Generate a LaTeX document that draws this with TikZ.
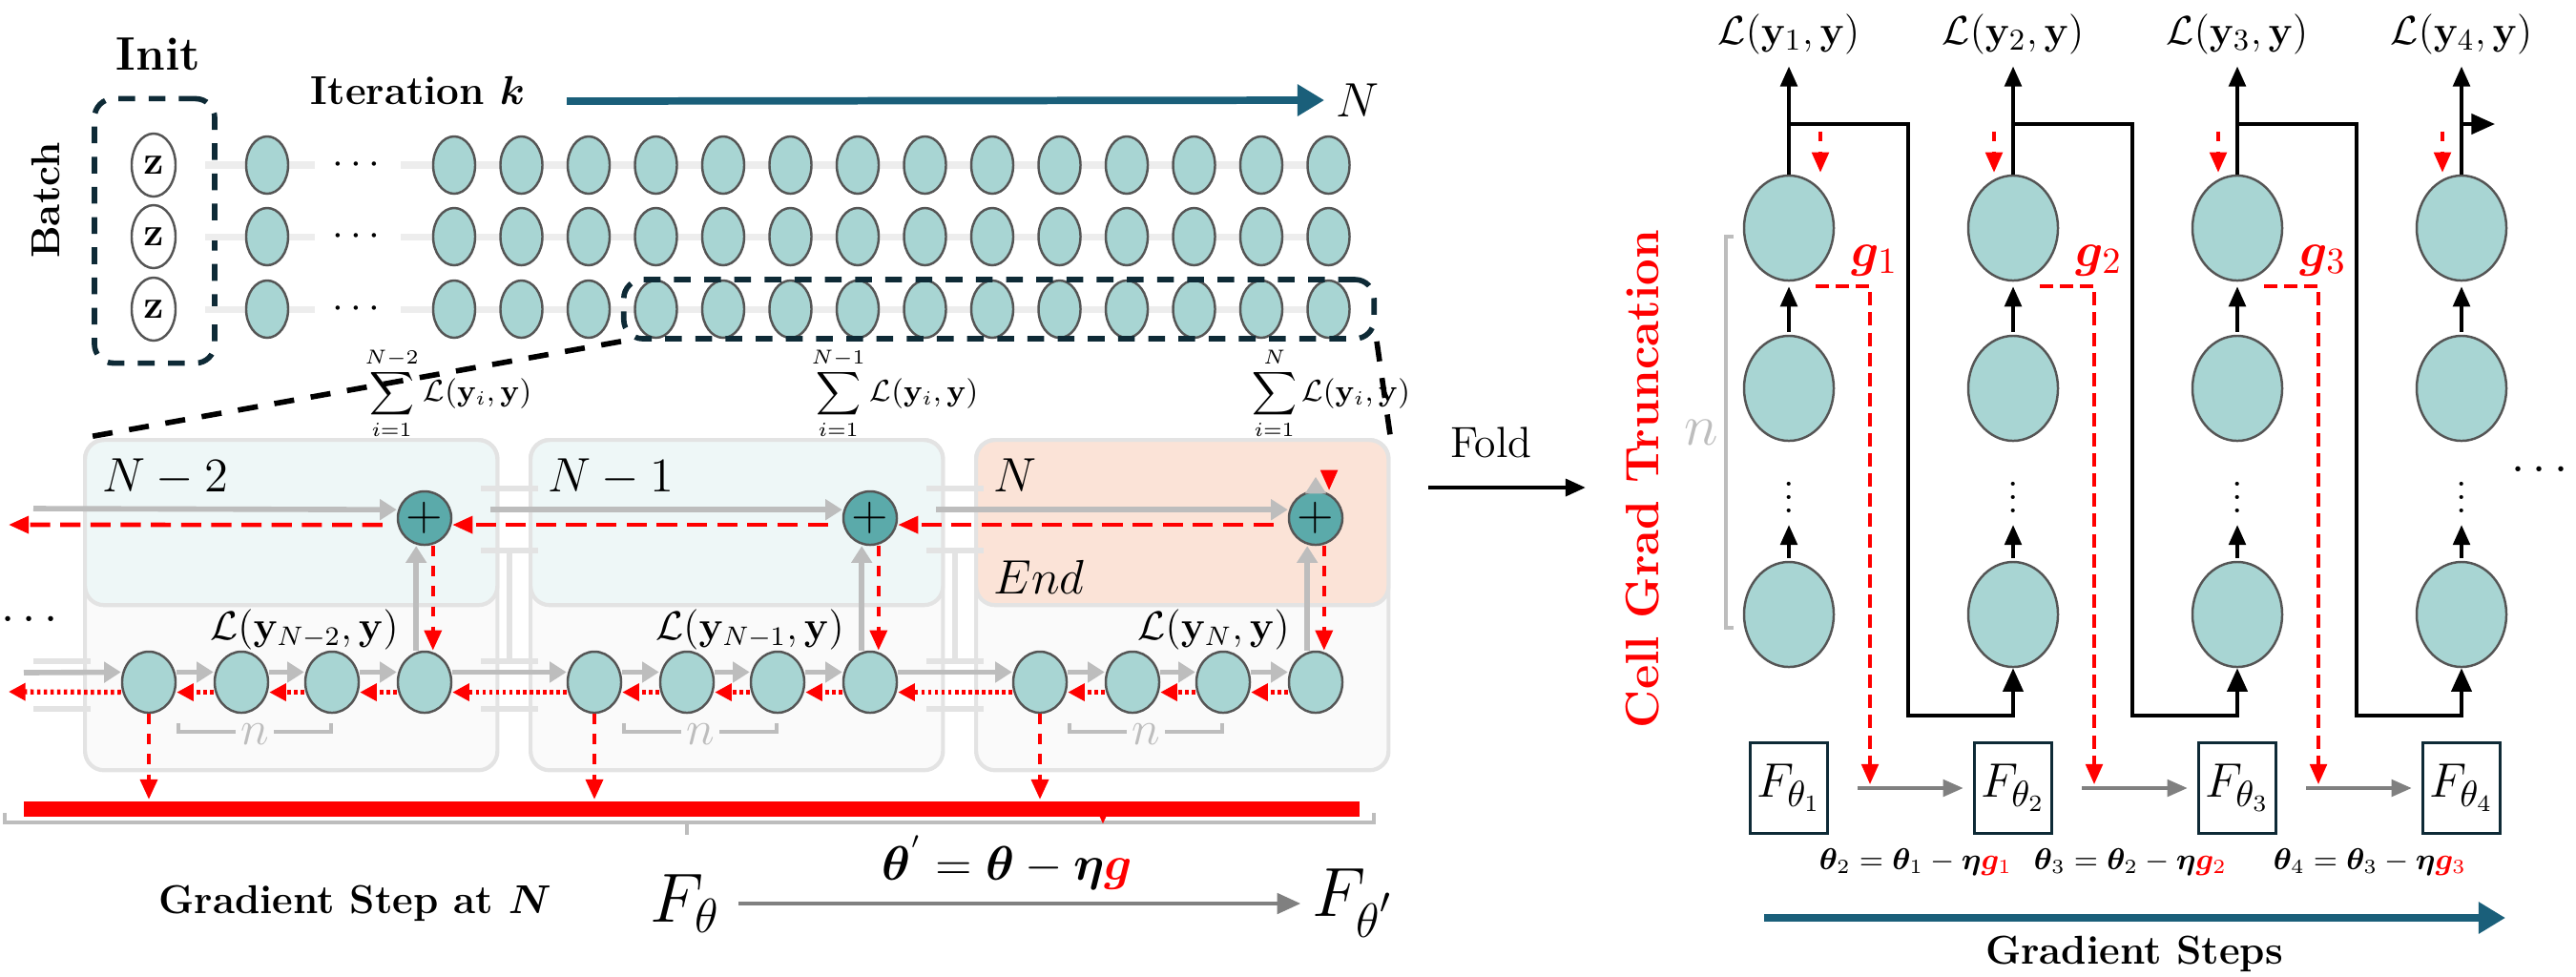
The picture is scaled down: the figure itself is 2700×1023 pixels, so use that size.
\documentclass[tikz,border=0pt]{standalone}
\usepackage{amsmath,amssymb,bm}
\usetikzlibrary{arrows.meta,positioning,shapes.geometric,calc}
\definecolor{cellfill}{HTML}{A8D5D3}
\definecolor{plusfill}{HTML}{5BAAAA}
\definecolor{cellline}{HTML}{555555}
\definecolor{stepblue}{HTML}{1A5F7A}
\definecolor{boxline}{HTML}{0E2A36}
\definecolor{panelcyan}{HTML}{EEF7F7}
\definecolor{panelpeach}{HTML}{FBE3D7}
\definecolor{panelgray}{HTML}{FAFAFA}
\definecolor{panelline}{HTML}{E3E3E3}
\definecolor{arrgray}{HTML}{BDBDBD}
\tikzset{%
	small cell/.style={ellipse, draw=cellline, fill=cellfill, line width=0.7pt,
		minimum width=4.4mm, minimum height=6mm, inner sep=0pt},
	chain cell/.style={small cell, minimum width=5.6mm, minimum height=6.4mm},
	big cell/.style={small cell, minimum width=9.4mm, minimum height=11mm},
	z cell/.style={small cell, fill=white, minimum width=4.6mm, minimum height=6.6mm},
	plus/.style={circle, draw=cellline, fill=plusfill, line width=0.7pt,
		minimum size=5.6mm, inner sep=0pt},
	dashed box/.style={draw=boxline, line width=1.6pt, dash pattern=on 5pt off 4pt,
		rounded corners=2mm, inner sep=0pt},
	panel/.style={draw=panelline, line width=1.2pt, rounded corners=2mm, inner sep=0pt,
		anchor=north west, minimum width=43.2mm},
	gray arrow/.style={-{Triangle[length=5pt,width=6pt]}, draw=arrgray, line width=1.6pt},
	red dash/.style={-{Triangle[length=6pt,width=5pt]}, red, line width=1.3pt, dashed},
	red dot/.style={-{Triangle[length=5pt,width=5pt]}, red, line width=1.5pt,
		dash pattern=on 1pt off 1pt},
	bridge/.style={draw=panelline, line width=1.5pt},
	wire/.style={line width=1.1pt, -{Triangle[length=7pt,width=6pt]}},
	up arrow/.style={line width=1.1pt, -{Triangle[length=6pt,width=5pt]}},
	fbox/.style={draw=boxline, line width=1pt, minimum width=8.1mm, minimum height=9.5mm,
		inner sep=0pt},
}
\begin{document}
\begin{tikzpicture}[x=0.01cm, y=-0.01cm, font=\fontsize{12}{14}\selectfont]
	\useasboundingbox (0,0) rectangle (2700,1023);
	
	% Init batch and iterations
	\node[font=\fontsize{14}{16}\selectfont\bfseries] (init) at (166,57) {Init};
	\node[rotate=90, font=\fontsize{12}{14}\selectfont\bfseries] (batch) at (48,210) {Batch};
	\node[font=\fontsize{12}{14}\selectfont\bfseries] (iter) at (438,95) {Iteration $\bm{k}$};
	\node[font=\fontsize{14}{16}\selectfont] (iterN) at (1423,105) {$N$};
	\coordinate (iterstart) at (594,106);
	\draw[line width=2.2pt, stepblue, -{Triangle[length=8pt,width=9pt]}] (iterstart) -- (iterN.west);
	\node[dashed box, minimum width=12.6mm, minimum height=27.7mm] (initbox) at (162,242) {};
	\foreach \r/\y in {1/173,2/248,3/324}{
		\draw[line width=2pt, black!7] (215,\y) -- (330,\y) (420,\y) -- (1400,\y);
		\node[z cell] (z\r) at (161,\y) {$\mathbf{z}$};
		\node[small cell] (a\r0) at (280,\y) {};
		\node (dots\r) at (377,\y) {$\cdots$};
		\foreach \i in {1,...,14}
			\node[small cell] (a\r\i) at ({476+70.5*(\i-1)},\y) {};
	}
	\node[dashed box, minimum width=78.6mm, minimum height=6.2mm] (zoombox) at (1047,324) {};
	
	% Unrolled panels
	\foreach \k/\x/\col in {1/87/panelcyan,2/554/panelcyan,3/1021/panelpeach}{
		\node[panel, fill=panelgray, minimum height=34.6mm] (pb\k) at (\x,459) {};
		\node[panel, fill=\col, minimum height=17.3mm] (pt\k) at (\x,459) {};
		\node[plus] (plus\k) at (\x+358,543) {\Large $+$};
		\foreach \i/\dx in {1/69,2/166,3/261,4/358}
			\node[chain cell] (c\k\i) at (\x+\dx,715) {};
		\draw[arrgray, line width=1.3pt] (\x+100,758) -- (\x+100,767) -- (\x+160,767)
			(\x+200,767) -- (\x+260,767) -- (\x+260,758);
		\node[text=arrgray, font=\fontsize{15}{17}\selectfont] (n\k) at (\x+180,770) {$n$};
		\foreach \i/\j in {1/2,2/3,3/4}{
			\draw[gray arrow, line width=1.2pt] ([yshift=3pt]c\k\i.east) -- ([yshift=3pt]c\k\j.west);
			\draw[red dot] ([yshift=-3pt]c\k\j.west) -- ([yshift=-3pt]c\k\i.east);
		}
		\draw[gray arrow] ([xshift=-2.5pt]c\k4.north) -- ([xshift=-2.5pt]plus\k.south);
		\draw[red dash] ([xshift=2.5pt]plus\k.south) -- ([xshift=2.5pt]c\k4.north);
		\draw[red dash] (c\k1.south) -- (c\k1.south |- 0,838);
	}
	\node[font=\fontsize{15}{17}\selectfont, anchor=north west] (lab1) at (95,468) {$N-2$};
	\node[font=\fontsize{15}{17}\selectfont, anchor=north west] (lab2) at (562,468) {$N-1$};
	\node[font=\fontsize{15}{17}\selectfont, anchor=north west] (lab3) at (1029,468) {$N$};
	\node[font=\fontsize{15}{17}\selectfont\itshape, anchor=north west] (endlab) at (1029,575) {$End$};
	\node[font=\fontsize{9}{11}\selectfont] (sum1) at (470,412) {$\displaystyle\sum_{i=1}^{N-2}\mathcal{L}(\mathbf{y}_i,\mathbf{y})$};
	\node[font=\fontsize{9}{11}\selectfont] (sum2) at (938,412) {$\displaystyle\sum_{i=1}^{N-1}\mathcal{L}(\mathbf{y}_i,\mathbf{y})$};
	\node[font=\fontsize{9}{11}\selectfont] (sum3) at (1395,412) {$\displaystyle\sum_{i=1}^{N}\mathcal{L}(\mathbf{y}_i,\mathbf{y})$};
	\node[anchor=east, font=\fontsize{12}{14}\selectfont] (ly1) at (430,660) {$\mathcal{L}(\mathbf{y}_{N-2},\mathbf{y})$};
	\node[anchor=east, font=\fontsize{12}{14}\selectfont] (ly2) at (897,660) {$\mathcal{L}(\mathbf{y}_{N-1},\mathbf{y})$};
	\node[anchor=east, font=\fontsize{12}{14}\selectfont] (ly3) at (1364,660) {$\mathcal{L}(\mathbf{y}_{N},\mathbf{y})$};
	\node[font=\fontsize{14}{16}\selectfont] (ldots) at (35,650) {$\cdots$};
	
	% links between panels
	\coordinate (in0) at (35,533);
	\coordinate (out0) at (9,550);
	\coordinate (cin0) at (25,705);
	\coordinate (cout0) at (9,725);
	\draw[gray arrow] (in0) -- ([yshift=2.5pt]plus1.west);
	\draw[gray arrow] ([yshift=2.5pt]plus1.east) ++(40,0) -- ([yshift=2.5pt]plus2.west);
	\draw[gray arrow] ([yshift=2.5pt]plus2.east) ++(40,0) -- ([yshift=2.5pt]plus3.west);
	\draw[red dash, dash pattern=on 6pt off 3pt] ([yshift=-2pt]plus1.west) ++(-15,0) -- (out0);
	\draw[red dash, dash pattern=on 6pt off 3pt] ([yshift=-2pt]plus2.west) ++(-15,0) -- ([yshift=-2pt]plus1.east);
	\draw[red dash, dash pattern=on 6pt off 3pt] ([yshift=-2pt]plus3.west) ++(-15,0) -- ([yshift=-2pt]plus2.east);
	\draw[gray arrow] (cin0) -- ([yshift=3pt]c11.west);
	\draw[gray arrow] ([yshift=3pt]c14.east) -- ([yshift=3pt]c21.west);
	\draw[gray arrow] ([yshift=3pt]c24.east) -- ([yshift=3pt]c31.west);
	\draw[red dot] ([yshift=-3pt]c11.west) -- (cout0);
	\draw[red dot] ([yshift=-3pt]c21.west) -- ([yshift=-3pt]c14.east);
	\draw[red dot] ([yshift=-3pt]c31.west) -- ([yshift=-3pt]c24.east);
	\foreach \bx in {519,986}{
		\draw[bridge] (\bx-15,512) -- (\bx+45,512) (\bx-15,577) -- (\bx+45,577);
		\draw[bridge] (\bx-15,693) -- (\bx+45,693) (\bx-15,743) -- (\bx+45,743);
		\draw[bridge] (\bx+15,577) -- (\bx+15,693);
	}
	\draw[bridge] (35,693) -- (95,693) (35,743) -- (95,743);
	\draw[gray arrow, line width=1.2pt] (plus3.north) -- ++(0,-14);
	\draw[red dash, line width=1pt] ([xshift=4pt]plus3.north) ++(0,-14) -- ([xshift=4pt]plus3.north);
	
	% zoom lines
	\draw[line width=1.6pt, dash pattern=on 6pt off 5pt] (zoombox.south west) -- (pt1.north west);
	\draw[line width=1.6pt, dash pattern=on 6pt off 5pt] (zoombox.south east) -- (pt3.north east);
	
	% gradient step
	\node[fill=red, minimum width=139.9mm, minimum height=1.6mm, inner sep=0pt] (bar) at (725,848) {};
	\draw[arrgray, line width=1.2pt] (5,852) -- (5,862) -- (1440,862) -- (1440,852)
		(720,862) -- (720,875);
	\coordinate (barout) at (1156,856);
	\node[font=\fontsize{15}{17}\selectfont] (upd) at (1056,904)
		{$\bm{\theta}^{'}=\bm{\theta}-\bm{\eta}\textcolor{red}{\bm{g}}$};
	\draw[red dash] (barout) -- (barout |- upd.north);
	\node[font=\fontsize{12}{14}\selectfont\bfseries] (gsN) at (372,947) {Gradient Step at $\bm{N}$};
	\node[font=\fontsize{22}{24}\selectfont] (fth) at (718,947) {$F_\theta$};
	\node[font=\fontsize{22}{24}\selectfont] (fthp) at (1419,947) {$F_{\theta^{'}}$};
	\draw[-{Triangle[length=7pt,width=6pt]}, black!50, line width=1.3pt] (fth) ++(56,0) -- (fthp.west);
	
	% fold
	\node[font=\fontsize{13}{15}\selectfont] (fold) at (1563,464) {Fold};
	\coordinate (foldin) at (1497,511);
	\coordinate (foldout) at (1662,511);
	\draw[line width=1.3pt, -{Triangle[length=6pt,width=5pt]}] (foldin) -- (foldout);
	\node[rotate=90, red, font=\fontsize{14}{16}\selectfont\bfseries] (cgt) at (1722,502) {Cell Grad Truncation};
	\draw[arrgray, line width=1pt] (1817,248) -- (1809,248) -- (1809,658) -- (1817,658);
	\node[text=arrgray, font=\fontsize{17}{19}\selectfont] (nr) at (1783,453) {$n$};
	
	% folded cells
	\foreach \j/\x in {1/1875,2/2110,3/2345,4/2580}{
		\node[big cell] (t\j) at (\x,239) {};
		\node[big cell] (m\j) at (\x,407) {};
		\node (d\j) at (\x,511) {$\vdots$};
		\node[big cell] (b\j) at (\x,644) {};
		\node[fbox, font=\fontsize{15}{17}\selectfont] (f\j) at (\x,826) {$F_{\theta_\j}$};
		\node[font=\fontsize{13}{15}\selectfont] (l\j) at (\x,36) {$\mathcal{L}(\mathbf{y}_\j,\mathbf{y})$};
		\coordinate (w\j) at (\x,130);
		\draw[up arrow] (t\j.north) -- (l\j.south);
		\draw[up arrow, shorten <=0.3mm, shorten >=0.5mm] (m\j.north) -- (t\j.south);
		\draw[up arrow, shorten <=0.3mm] (b\j.north) -- (d\j.south);
	}
	\draw[wire] (w1) -| (2000,750) -| (b2.south);
	\draw[wire] (w2) -| (2235,750) -| (b3.south);
	\draw[wire] (w3) -| (2470,750) -| (b4.south);
	\draw[wire] (w4) -- ++(35,0);
	\node[font=\fontsize{14}{16}\selectfont] (rdots) at (2666,493) {$\cdots$};
	
	% truncated gradients
	\draw[red dash, line width=1pt] ($(t1.north)+(33,-45)$) -- ($(t1.north)+(33,-2)$);
	\foreach \j in {2,3,4}
		\draw[red dash, line width=1pt] ($(t\j.north)+(-20,-45)$) -- ($(t\j.north)+(-20,-2)$);
	\foreach \j in {1,2,3}{
		\draw[red dash, line width=1pt, dash pattern=on 4pt off 2pt] ($(t\j)+(28,61)$) -| ($(f\j)+(85,-4)$);
		\node[red, font=\fontsize{15}{17}\selectfont] (g\j) at ($(t\j)+(90,34)$) {$\bm{g}_{\j}$};
	}
	\foreach \j/\k in {1/2,2/3,3/4}
		\draw[-{Triangle[length=6pt,width=5pt]}, black!50, line width=1pt, shorten <=3mm, shorten >=1mm] (f\j.east) -- (f\k.west);
	\node[font=\fontsize{9}{11}\selectfont] (eq1) at (2008,904) {$\bm{\theta}_2=\bm{\theta}_1-\bm{\eta}\textcolor{red}{\bm{g}_1}$};
	\node[font=\fontsize{9}{11}\selectfont] (eq2) at (2233,904) {$\bm{\theta}_3=\bm{\theta}_2-\bm{\eta}\textcolor{red}{\bm{g}_2}$};
	\node[font=\fontsize{9}{11}\selectfont] (eq3) at (2484,904) {$\bm{\theta}_4=\bm{\theta}_3-\bm{\eta}\textcolor{red}{\bm{g}_3}$};
	\coordinate (gsstart) at (1849,962);
	\coordinate (gsend) at (2626,962);
	\draw[line width=2.2pt, stepblue, -{Triangle[length=8pt,width=9pt]}] (gsstart) -- (gsend);
	\node[font=\fontsize{12}{14}\selectfont\bfseries] (gsteps) at (2237,1000) {Gradient Steps};
\end{tikzpicture}
\end{document}
